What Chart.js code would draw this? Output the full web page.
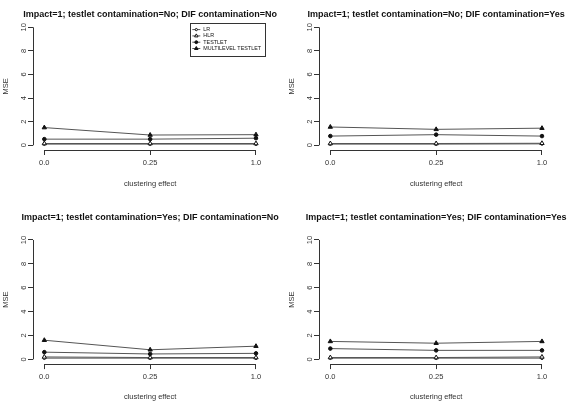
<!DOCTYPE html>
<html>
<head>
<meta charset="utf-8">
<script src="https://cdn.jsdelivr.net/npm/chart.js@4.4.0/dist/chart.umd.min.js"></script>
<style>
  html, body { margin: 0; padding: 0; background: #fff; }
  #wrap { position: relative; width: 572px; height: 403px; }
  canvas { position: absolute; }
</style>
</head>
<body>
<div id="wrap">
  <canvas id="p0" width="286" height="201" style="left:0;top:0"></canvas>
  <canvas id="p1" width="286" height="201" style="left:286px;top:0"></canvas>
  <canvas id="p2" width="286" height="202" style="left:0;top:201px"></canvas>
  <canvas id="p3" width="286" height="202" style="left:286px;top:201px"></canvas>
</div>
<script>
// data

const xLabels = ["0.0", "0.25", "1.0"];
const xPos = [1, 2, 3];
const yTicks = [0, 2, 4, 6, 8, 10];
const seriesNames = ["LR", "HLR", "TESTLET", "MULTILEVEL TESTLET"];

const panelTitles = [
  "Impact=1; testlet contamination=No; DIF contamination=No",
  "Impact=1; testlet contamination=No; DIF contamination=Yes",
  "Impact=1; testlet contamination=Yes; DIF contamination=No",
  "Impact=1; testlet contamination=Yes; DIF contamination=Yes"
];

// one row per panel, one value per clustering effect
const mseLR = [
  [0.1, 0.1, 0.1],
  [0.1, 0.1, 0.12],
  [0.1, 0.1, 0.1],
  [0.1, 0.1, 0.1]
];
const mseHLR = [
  [0.15, 0.15, 0.15],
  [0.15, 0.15, 0.17],
  [0.2, 0.15, 0.15],
  [0.15, 0.15, 0.2]
];
const mseTestlet = [
  [0.52, 0.52, 0.6],
  [0.78, 0.9, 0.78],
  [0.6, 0.45, 0.5],
  [0.9, 0.75, 0.75]
];
const mseMultilevel = [
  [1.5, 0.87, 0.9],
  [1.55, 1.35, 1.45],
  [1.6, 0.8, 1.1],
  [1.5, 1.35, 1.5]
];

const seriesValues = [mseLR, mseHLR, mseTestlet, mseMultilevel];

// look

const fontFamily = "'Liberation Sans', Arial, sans-serif";
const ink = "#333";
const lineInk = "#555";

const seriesStyles = [
  { pointStyle: "circle", pointRadius: 1.4, pointBackgroundColor: "#fff", pointBorderColor: "#111", pointBorderWidth: 1 },
  { pointStyle: "triangle", pointRadius: 2.5, pointBackgroundColor: "#fff", pointBorderColor: "#111", pointBorderWidth: 1 },
  { pointStyle: "circle", pointRadius: 1.8, pointBackgroundColor: "#111", pointBorderColor: "#111", pointBorderWidth: 1 },
  { pointStyle: "triangle", pointRadius: 2.5, pointBackgroundColor: "#111", pointBorderColor: "#111", pointBorderWidth: 1 }
];

// R style axes : line only from first to last tick
const axisLines = {
  id: "axisLines",
  afterDraw(chart) {
    const { ctx, chartArea } = chart;
    const x = chart.scales.x;
    const y = chart.scales.y;
    ctx.save();
    ctx.strokeStyle = ink;
    ctx.lineWidth = 1;
    ctx.beginPath();
    const yb = Math.round(chartArea.bottom) + 0.5;
    ctx.moveTo(x.getPixelForValue(xPos[0]), yb);
    ctx.lineTo(x.getPixelForValue(xPos[xPos.length - 1]), yb);
    const xl = Math.round(chartArea.left) + 0.5;
    ctx.moveTo(xl, y.getPixelForValue(yTicks[0]));
    ctx.lineTo(xl, y.getPixelForValue(yTicks[yTicks.length - 1]));
    ctx.stroke();
    ctx.restore();
  }
};

// title centred over the plotting region
const panelTitle = {
  id: "panelTitle",
  afterDraw(chart, args, opts) {
    const { ctx } = chart;
    const x = chart.scales.x;
    const cx = (x.getPixelForValue(xPos[0]) + x.getPixelForValue(xPos[xPos.length - 1])) / 2;
    ctx.save();
    ctx.font = "bold 9px " + fontFamily;
    ctx.fillStyle = "#111";
    ctx.textAlign = "center";
    ctx.textBaseline = "middle";
    ctx.fillText(opts.text, cx, opts.y);
    ctx.restore();
  }
};

// boxed legend in the top right corner of the first panel
const boxLegend = {
  id: "boxLegend",
  afterDraw(chart, args, opts) {
    if (!opts.show) return;
    const { ctx, chartArea } = chart;
    const w = 75, h = 33;
    const left = chartArea.right - w - 2;
    const top = chartArea.top;
    ctx.save();
    ctx.strokeStyle = ink;
    ctx.lineWidth = 1;
    ctx.strokeRect(Math.round(left) + 0.5, Math.round(top) + 0.5, w, h);
    ctx.font = "5.4px " + fontFamily;
    ctx.textBaseline = "middle";
    chart.data.datasets.forEach((ds, k) => {
      const yy = top + 7 + k * 6.3;
      ctx.beginPath();
      ctx.strokeStyle = lineInk;
      ctx.moveTo(left + 2, yy);
      ctx.lineTo(left + 10, yy);
      ctx.stroke();
      ctx.fillStyle = ds.pointBackgroundColor;
      ctx.strokeStyle = ds.pointBorderColor;
      Chart.helpers.drawPoint(ctx, {
        pointStyle: ds.pointStyle,
        radius: ds.pointRadius * 0.8,
        rotation: 0,
        borderWidth: 1
      }, left + 6, yy);
      ctx.fillStyle = "#111";
      ctx.fillText(ds.label, left + 13, yy);
    });
    ctx.restore();
  }
};

function makePanel(i) {
  const topRow = i < 2;
  const tickFont = { family: fontFamily, size: 7.5 };

  const datasets = seriesNames.map((name, k) => ({
    label: name,
    data: seriesValues[k][i].map((v, j) => ({ x: xPos[j], y: v })),
    borderColor: lineInk,
    borderWidth: 1,
    fill: false,
    tension: 0,
    order: seriesNames.length - k,
    ...seriesStyles[k]
  }));

  new Chart(document.getElementById("p" + i), {
    type: "line",
    data: { datasets },
    options: {
      responsive: false,
      animation: false,
      layout: { padding: { left: 0, right: 18.7, top: topRow ? 22.6 : 34.2, bottom: 0 } },
      plugins: {
        legend: { display: false },
        tooltip: { enabled: false },
        title: { display: false },
        panelTitle: { text: panelTitles[i], y: topRow ? 15 : 17 },
        boxLegend: { show: i === 0 }
      },
      scales: {
        x: {
          type: "linear",
          min: 0.893,
          max: 3.107,
          afterBuildTicks: (s) => { s.ticks = xPos.map((v) => ({ value: v })); },
          afterFit: (s) => { s.height = topRow ? 51 : 38.9; },
          ticks: {
            callback: (v, idx) => xLabels[idx],
            font: tickFont,
            color: ink,
            padding: 3,
            maxRotation: 0
          },
          grid: { drawOnChartArea: false, drawTicks: true, tickLength: 5, color: ink },
          border: { display: false },
          title: {
            display: true,
            text: "clustering effect",
            font: tickFont,
            color: ink,
            padding: { top: 0, bottom: topRow ? 12.5 : 1.5 }
          }
        },
        y: {
          min: -0.4,
          max: 10.4,
          afterBuildTicks: (s) => { s.ticks = yTicks.map((v) => ({ value: v })); },
          afterFit: (s) => { s.width = 33; },
          ticks: {
            font: tickFont,
            color: ink,
            padding: 0,
            minRotation: 90,
            maxRotation: 90,
            crossAlign: "center"
          },
          grid: { drawOnChartArea: false, drawTicks: true, tickLength: 5, color: ink },
          border: { display: false },
          title: {
            display: true,
            text: "MSE",
            font: tickFont,
            color: ink,
            padding: { top: 1, bottom: 0 }
          }
        }
      }
    },
    plugins: [axisLines, panelTitle, boxLegend]
  });
}

[0, 1, 2, 3].forEach(makePanel);
</script>
</body>
</html>
